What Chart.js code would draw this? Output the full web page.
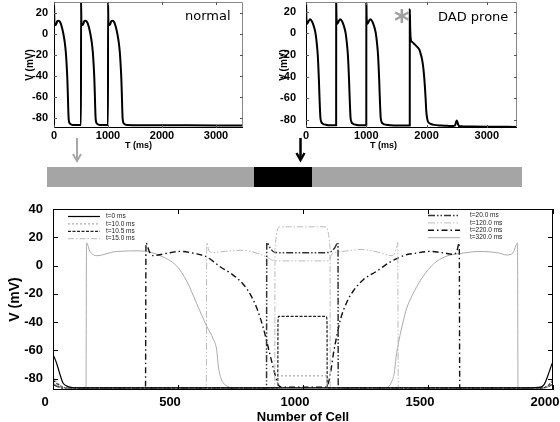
<!DOCTYPE html>
<html>
<head>
<meta charset="utf-8">
<title>Normal vs DAD prone action potentials</title>
<script src="https://cdn.jsdelivr.net/npm/chart.js@4.4.1/dist/chart.umd.min.js"></script>
<style>
  html, body { margin: 0; padding: 0; background: #fff; overflow: hidden; }
  #fig { position: relative; width: 560px; height: 422px; font-family: 'Liberation Sans', Arial, sans-serif; }
  #fig canvas { position: absolute; }
  .lbl { position: absolute; white-space: nowrap; line-height: 1; color: #000; }
</style>
</head>
<body>
<div id="fig">
  <canvas id="normalChart" width="250" height="152" style="left:0px;top:0px"></canvas>
  <canvas id="dadChart" width="255" height="152" style="left:270px;top:0px"></canvas>
  <canvas id="cableChart" width="560" height="227" style="left:0px;top:195px"></canvas>

  <div class="lbl" style="left:185px;top:9px;font-family:'DejaVu Sans';font-size:13px;">normal</div>
  <div class="lbl" style="left:438px;top:10px;font-family:'DejaVu Sans';font-size:13px;">DAD prone</div>
  <div class="lbl" style="left:394px;top:6px;font-family:'DejaVu Sans';font-weight:bold;font-size:30px;color:#a0a0a0;">*</div>
  <div class="lbl" style="left:125px;top:141px;font-weight:bold;font-size:9px;">T (ms)</div>
  <div class="lbl" style="left:370px;top:141px;font-weight:bold;font-size:9px;">T (ms)</div>

  <svg style="position:absolute;left:0;top:136px" width="560" height="55">
    <line x1="77" y1="2" x2="77" y2="24" stroke="#a8a8a8" stroke-width="2"/>
    <polyline points="73,18 77,25 81,18" fill="none" stroke="#a8a8a8" stroke-width="2"/>
    <line x1="300.5" y1="2" x2="300.5" y2="23" stroke="#000" stroke-width="2.5"/>
    <polyline points="296.5,17 300.5,24 304.5,17" fill="none" stroke="#000" stroke-width="2.5"/>
    <rect x="47" y="31" width="475" height="20" fill="#a5a5a5"/>
    <rect x="254" y="31" width="58" height="20" fill="#000"/>
  </svg>
</div>

<script>
// tick labels of the two top panels (time in ms)
const timeTicks = [0, 1000, 2000, 3000];

// top left: normal cell, V (mV) against time (ms)
const normalTime = [0, 1, 6, 15, 35, 60, 85, 115, 145, 175, 200, 220, 236, 247, 256, 263, 270, 282, 300, 350,
  500, 501, 506, 515, 535, 560, 585, 615, 645, 675, 700, 720, 736, 747, 756, 763, 770, 782, 800, 850,
  1000, 1001, 1006, 1015, 1035, 1060, 1085, 1115, 1145, 1175, 1200, 1220, 1236, 1247, 1256, 1263, 1270, 1282, 1300, 1350,
  2000, 3000, 3500];
const normalV = [-80, 32, 14, 9, 9, 12.5, 13, 11.5, 7, 0, -8, -18, -31, -43, -57, -70, -80, -84.5, -86, -87,
  -87, 32, 14, 9, 9, 12.5, 13, 11.5, 7, 0, -8, -18, -31, -43, -57, -70, -80, -84.5, -86, -87,
  -87, 32, 14, 9, 9, 12.5, 13, 11.5, 7, 0, -8, -18, -31, -43, -57, -70, -80, -84.5, -86, -87,
  -87.3, -87.5, -87.5];

// top right: DAD prone cell
const dadTime = [0, 1, 6, 22, 45, 67, 100, 133, 158, 178, 195, 205, 214, 222, 230, 239, 255, 278, 330, 400,
  500, 501, 506, 522, 545, 567, 600, 633, 658, 678, 695, 705, 714, 722, 730, 739, 755, 778, 830, 900,
  1000, 1001, 1006, 1022, 1045, 1067, 1100, 1133, 1158, 1178, 1195, 1205, 1214, 1222, 1230, 1239, 1255, 1278, 1330, 1400,
  1721, 1722, 1728, 1740, 1761, 1800, 1844, 1880, 1900, 1925, 1944, 1960, 1972, 1985, 1994, 2008, 2022, 2060, 2122,
  2250, 2344, 2440, 2470, 2490, 2500, 2512, 2525, 2545, 2600, 3000, 3500];
const dadV = [-78, 32, 14, 9, 11.5, 13, 11, 6, 0, -9, -20, -31, -43, -56, -68, -78, -82, -83.5, -84.5, -85,
  -85, 32, 14, 9, 11.5, 13, 11, 6, 0, -9, -20, -31, -43, -56, -68, -78, -82, -83.5, -84.5, -85,
  -85, 32, 14, 9, 11.5, 13, 11, 6, 0, -9, -20, -31, -43, -56, -68, -78, -82, -83.5, -84.5, -85,
  -85.3, 22, 5, -6, -8, -10, -12.5, -15, -18.5, -24, -31, -40, -49, -61, -71, -78, -81.5, -83.5, -84.6,
  -85.2, -85.5, -85.7, -85.2, -82, -80.5, -82, -84.5, -85.8, -86, -86.3, -86.5];

// bottom: V along the cable (cell number) at several times
const cableLabels = ['t=0 ms', 't=10.0 ms', 't=10.5 ms', 't=15.0 ms', 't=20.0 ms', 't=120.0 ms', 't=220.0 ms', 't=320.0 ms'];

const cellT0 = [0, 8, 16, 28, 40, 60, 100, 1000, 1900, 1950, 1965, 1975, 1985, 1995, 2000];
const vT0 = [-63, -66, -70, -77, -83, -85.5, -86.5, -86.5, -86.5, -86, -84, -80, -75, -70, -68];

const cellT10 = [0, 15, 35, 60, 899, 900, 1096, 1097, 1960, 1985, 2000];
const vT10 = [-79, -82, -85.5, -86.5, -86.5, -78, -78, -86.5, -86.5, -84, -80];

const cellT105 = [0, 20, 40, 60, 899, 900, 903, 1093, 1096, 1097, 1960, 1985, 2000];
const vT105 = [-81, -84, -86, -86.5, -86.5, -39, -36, -36, -39, -86.5, -86.5, -84, -81];

const cellT15 = [0, 30, 60, 887, 888, 908, 1088, 1108, 1109, 1970, 2000];
const vT15 = [-83, -86, -86.5, -86.5, 11.6, 27.4, 27.4, 13, -86.5, -86.5, -83];

const cellT20 = [0, 40, 854, 855, 870, 888, 1000, 1100, 1125, 1140, 1141, 1960, 2000];
const vT20 = [-84, -86.5, -86.5, 16.3, 12, 9.2, 9, 9.2, 12, 16.3, -86.5, -86.5, -84];

const cellT120 = [0, 40, 613, 615, 625, 640, 700, 756, 820, 855, 875, 888, 1000, 1102, 1115, 1160, 1235, 1300, 1355, 1370, 1379, 1381, 1960, 2000];
const vT120 = [-84, -86.5, -86.5, 16.3, 10, 9.3, 10.3, 10.8, 8.5, 6, 4, 3.3, 3.3, 3.3, 8, 10, 11.4, 9.5, 7, 10, 16.3, -86.5, -86.5, -84];

const cellT220 = [0, 40, 370, 372, 385, 400, 450, 508, 568, 616, 670, 715, 760, 788, 815, 841, 868, 888, 900, 915,
  1090, 1100, 1110, 1122, 1135, 1150, 1175, 1201, 1241, 1295, 1348, 1421, 1441, 1508, 1560, 1601, 1615, 1625, 1627, 1960, 2000];
const vT220 = [-84, -86.5, -86.5, 16, 10, 7, 8.5, 10, 8.5, 6, -1, -6, -13, -20, -30, -44, -63, -77, -84, -86,
  -86, -84, -76, -62, -50, -38, -26, -18, -10, -4, 2.5, 8, 8.5, 10, 9, 8, 10, 16, -86.5, -86.5, -84];

const cellT320 = [0, 40, 132, 134, 148, 175, 255, 348, 428, 495, 535, 575, 615, 641, 655, 661, 675, 695, 720,
  1330, 1345, 1355, 1365, 1372, 1385, 1400, 1415, 1440, 1468, 1500, 1535, 1580, 1628, 1708, 1780, 1815, 1840, 1858, 1860, 1960, 2000];
const vT320 = [-84, -86.5, -86.5, 16, 10, 7, 10, 10.4, 7, -0.4, -11, -27, -43, -52, -60, -71, -81, -85, -86.5,
  -86.5, -85, -82, -76, -65, -52, -40, -30, -20, -11, -3, 3, 7, 8.5, 10, 9, 7.5, 9, 16, -86.5, -86.5, -84];

function pts(xs, ys) {
    return xs.map((x, i) => ({ x: x, y: ys[i] }));
}

Chart.defaults.font.family = "'Liberation Sans', Arial, sans-serif";
Chart.defaults.color = '#000';

// box round the plot area with small inward ticks on all four sides
const frameTicks = {
    id: 'frameTicks',
    afterDraw(chart, args, opts) {
        const { ctx, chartArea: a, scales } = chart;
        const len = opts.len || 4;
        ctx.save();
        ctx.lineWidth = 1;
        // top and right edges
        ctx.strokeStyle = opts.edge || '#000';
        ctx.beginPath();
        ctx.moveTo(a.left, a.top + 0.5); ctx.lineTo(a.right - 0.5, a.top + 0.5); ctx.lineTo(a.right - 0.5, a.bottom);
        ctx.stroke();
        // left and bottom edges
        ctx.strokeStyle = '#000';
        ctx.beginPath();
        ctx.moveTo(a.left + 0.5, a.top); ctx.lineTo(a.left + 0.5, a.bottom - 0.5); ctx.lineTo(a.right, a.bottom - 0.5);
        ctx.stroke();
        ctx.strokeStyle = opts.tick || '#000';
        ctx.beginPath();
        scales.x.ticks.forEach(t => {
            const px = Math.round(scales.x.getPixelForValue(t.value)) + 0.5;
            ctx.moveTo(px, a.bottom); ctx.lineTo(px, a.bottom - len);
            ctx.moveTo(px, a.top); ctx.lineTo(px, a.top + len);
        });
        scales.y.ticks.forEach(t => {
            const py = Math.round(scales.y.getPixelForValue(t.value)) + 0.5;
            ctx.moveTo(a.left, py); ctx.lineTo(a.left + len, py);
            ctx.moveTo(a.right, py); ctx.lineTo(a.right - len, py);
        });
        ctx.stroke();
        ctx.restore();
    }
};

// two small legend blocks inside the bottom panel (4 entries each)
const splitLegend = {
    id: 'splitLegend',
    afterDraw(chart) {
        const ctx = chart.ctx;
        chart.data.datasets.forEach((ds, i) => {
            const right = i >= 4;
            const row = i % 4;
            const x0 = right ? 428 : 68;
            const y0 = (right ? 20 : 21) + row * 7.4;
            ctx.save();
            ctx.strokeStyle = ds.borderColor;
            ctx.lineWidth = ds.borderWidth;
            ctx.setLineDash(ds.borderDash || []);
            ctx.beginPath();
            ctx.moveTo(x0, y0 + 0.5);
            ctx.lineTo(x0 + 32, y0 + 0.5);
            ctx.stroke();
            ctx.setLineDash([]);
            ctx.fillStyle = '#222';
            ctx.font = "6.5px 'Liberation Sans', Arial, sans-serif";
            ctx.textBaseline = 'middle';
            ctx.fillText(ds.label, x0 + (right ? 42 : 38), y0 + 0.5);
            ctx.restore();
        });
    }
};

function timeChart(id, time, volts, vMin, vMax, yWidth, yPad, titlePad) {
    return new Chart(document.getElementById(id), {
        type: 'line',
        data: {
            datasets: [{
                data: pts(time, volts),
                borderColor: '#000',
                borderWidth: 2,
                pointRadius: 0,
                cubicInterpolationMode: 'monotone'
            }]
        },
        options: {
            responsive: false,
            animation: false,
            devicePixelRatio: 1,
            events: [],
            layout: { padding: { top: 2, right: id === 'normalChart' ? 7 : 8, left: 0, bottom: 0 } },
            plugins: {
                legend: { display: false },
                tooltip: { enabled: false },
                frameTicks: { len: 3, edge: '#888', tick: '#555' }
            },
            scales: {
                x: {
                    type: 'linear', min: 0, max: 3500,
                    grid: { display: false, drawTicks: false },
                    border: { display: false },
                    afterBuildTicks(s) { s.ticks = timeTicks.map(v => ({ value: v })); },
                    ticks: {
                        padding: 1.5, autoSkip: false, maxRotation: 0,
                        font: { size: 11, weight: 'bold' },
                        callback: v => String(v)
                    },
                    afterFit(s) { s.height = 24; s.paddingLeft = 0; s.paddingRight = 0; }
                },
                y: {
                    type: 'linear', min: vMin, max: vMax,
                    grid: { display: false, drawTicks: false },
                    border: { display: false },
                    ticks: {
                        stepSize: 20, includeBounds: false, padding: yPad,
                        font: { size: 11, weight: 'bold' },
                        callback: v => String(v)
                    },
                    title: {
                        display: true, text: 'V (mV)',
                        font: { size: 10, weight: 'bold' },
                        padding: { top: titlePad, bottom: 0 }
                    },
                    afterFit(s) { s.width = yWidth; s.paddingTop = 0; s.paddingBottom = 0; }
                }
            }
        },
        plugins: [frameTicks]
    });
}

timeChart('normalChart', normalTime, normalV, -90, 31, 54, 6, 24);
timeChart('dadChart', dadTime, dadV, -87.5, 29, 36, 10, 8);

const cableStyles = [
    { color: '#000', width: 1.2, dash: [] },
    { color: '#999', width: 1, dash: [2, 2] },
    { color: '#222', width: 1.2, dash: [3, 1.5] },
    { color: '#bbb', width: 1, dash: [6, 2, 1.5, 2] },
    { color: '#333', width: 1.5, dash: [7, 2, 1.5, 2, 1.5, 2] },
    { color: '#bbb', width: 1, dash: [7, 2, 1.5, 2, 1.5, 2] },
    { color: '#111', width: 1.4, dash: [6, 3, 1.5, 3] },
    { color: '#aaa', width: 1, dash: [] }
];
const cableX = [cellT0, cellT10, cellT105, cellT15, cellT20, cellT120, cellT220, cellT320];
const cableY = [vT0, vT10, vT105, vT15, vT20, vT120, vT220, vT320];

new Chart(document.getElementById('cableChart'), {
    type: 'line',
    data: {
        datasets: cableLabels.map((label, i) => ({
            label: label,
            data: pts(cableX[i], cableY[i]),
            borderColor: cableStyles[i].color,
            borderWidth: cableStyles[i].width,
            borderDash: cableStyles[i].dash,
            pointRadius: 0,
            cubicInterpolationMode: 'monotone'
        }))
    },
    options: {
        responsive: false,
        animation: false,
        devicePixelRatio: 1,
        events: [],
        layout: { padding: { top: 14, right: 7, left: 0, bottom: 0 } },
        plugins: {
            legend: { display: false },
            tooltip: { enabled: false },
            frameTicks: { len: 5, edge: '#000', tick: '#000' }
        },
        scales: {
            x: {
                type: 'linear', min: 0, max: 2000,
                grid: { display: false, drawTicks: false },
                border: { display: false },
                ticks: {
                    stepSize: 500, padding: 5, labelOffset: -8, autoSkip: false, maxRotation: 0,
                    font: { size: 13, weight: 'bold' },
                    callback: v => String(v)
                },
                title: {
                    display: true, text: 'Number of Cell',
                    font: { size: 13, weight: 'bold' },
                    padding: { top: 0, bottom: -3 }
                },
                afterFit(s) { s.height = 32; s.paddingLeft = 0; s.paddingRight = 0; }
            },
            y: {
                type: 'linear', min: -88, max: 40,
                grid: { display: false, drawTicks: false },
                border: { display: false },
                ticks: {
                    stepSize: 20, includeBounds: false, padding: 10,
                    font: { size: 13, weight: 'bold' },
                    callback: v => String(v)
                },
                title: {
                    display: true, text: 'V (mV)',
                    font: { size: 14, weight: 'bold' },
                    padding: { top: 6.6, bottom: 0 }
                },
                afterFit(s) { s.width = 53; s.paddingTop = 0; s.paddingBottom = 0; }
            }
        }
    },
    plugins: [frameTicks, splitLegend]
});
</script>
</body>
</html>
